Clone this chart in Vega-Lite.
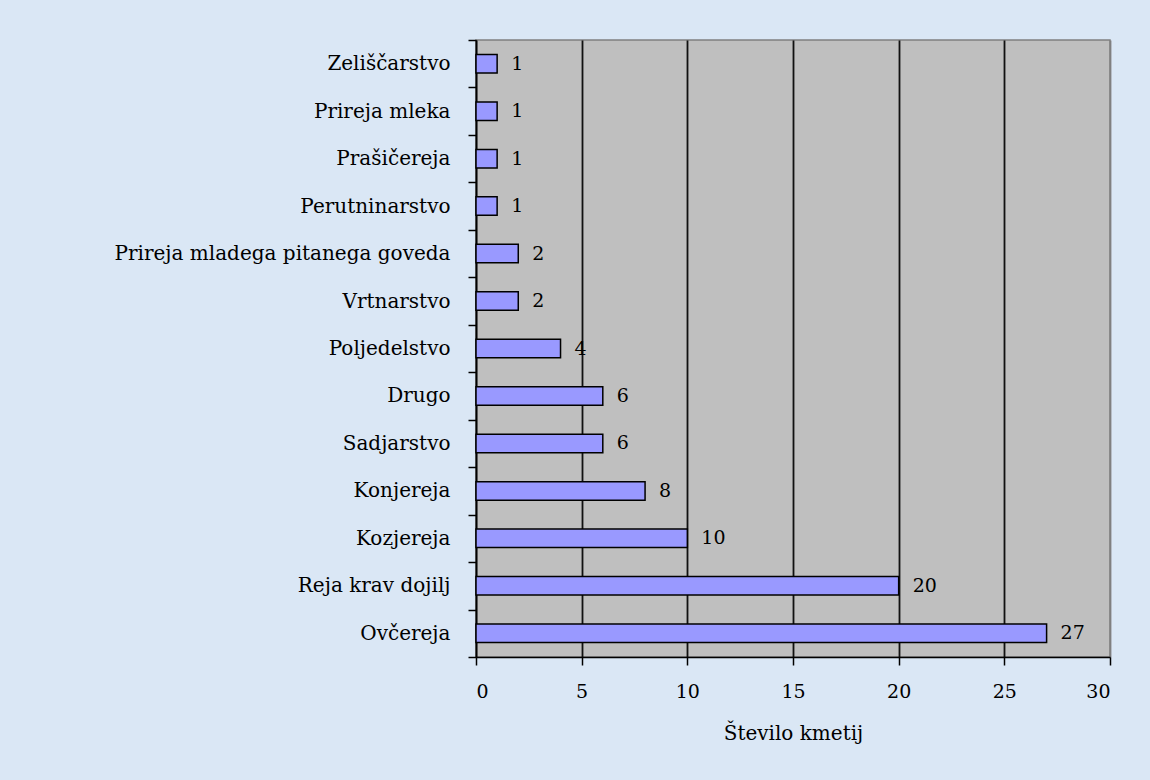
{
  "$schema": "https://vega.github.io/schema/vega-lite/v6.json",
  "autosize": {"type": "none"},
  "width": 634,
  "height": 617,
  "padding": {"left": 476, "top": 40, "right": 40, "bottom": 123},
  "background": "#DAE7F5",
  "data": {
    "values": [
      {"kategorija": "Zeliščarstvo", "kmetije": 1},
      {"kategorija": "Prireja mleka", "kmetije": 1},
      {"kategorija": "Prašičereja", "kmetije": 1},
      {"kategorija": "Perutninarstvo", "kmetije": 1},
      {"kategorija": "Prireja mladega pitanega goveda", "kmetije": 2},
      {"kategorija": "Vrtnarstvo", "kmetije": 2},
      {"kategorija": "Poljedelstvo", "kmetije": 4},
      {"kategorija": "Drugo", "kmetije": 6},
      {"kategorija": "Sadjarstvo", "kmetije": 6},
      {"kategorija": "Konjereja", "kmetije": 8},
      {"kategorija": "Kozjereja", "kmetije": 10},
      {"kategorija": "Reja krav dojilj", "kmetije": 20},
      {"kategorija": "Ovčereja", "kmetije": 27}
    ]
  },
  "encoding": {
    "y": {
      "field": "kategorija",
      "type": "nominal",
      "sort": null,
      "scale": {"paddingInner": 0, "paddingOuter": 0},
      "axis": {
        "title": null,
        "tickBand": "extent",
        "tickSize": 8,
        "tickColor": "black",
        "tickWidth": 1.5,
        "domainColor": "black",
        "domainWidth": 1.5,
        "labelFont": "DejaVu Serif",
        "labelFontSize": 20,
        "labelColor": "black",
        "labelPadding": 18,
        "labelLimit": 0,
        "grid": false
      }
    },
    "x": {
      "field": "kmetije",
      "type": "quantitative",
      "scale": {"domain": [0, 30], "nice": false},
      "axis": {
        "title": "Število kmetij",
        "titleFont": "DejaVu Serif",
        "titleFontSize": 20,
        "titleFontWeight": "normal",
        "titleColor": "black",
        "titlePadding": 22,
        "values": [0, 5, 10, 15, 20, 25, 30],
        "tickSize": 8,
        "tickColor": "black",
        "tickWidth": 1.5,
        "domainColor": "black",
        "domainWidth": 1.5,
        "labelFont": "DejaVu Serif",
        "labelFontSize": 19,
        "labelColor": "black",
        "labelPadding": 17,
        "grid": true,
        "gridColor": {"condition": {"test": "datum.value == 30", "value": "#808080"}, "value": "#111111"},
        "gridWidth": 1.8,
        "gridOpacity": 1
      }
    }
  },
  "layer": [
    {
      "mark": {"type": "bar", "height": {"band": 0.39}, "fill": "#9999FF", "stroke": "black", "strokeWidth": 1.5, "cornerRadius": 0}
    },
    {
      "mark": {"type": "text", "align": "left", "baseline": "middle", "dx": 14, "font": "DejaVu Serif", "fontSize": 19, "color": "black"},
      "encoding": {"text": {"field": "kmetije", "type": "quantitative"}}
    }
  ],
  "config": {
    "view": {"fill": "#BFBFBF", "stroke": "#808080", "strokeWidth": 1.5}
  }
}
